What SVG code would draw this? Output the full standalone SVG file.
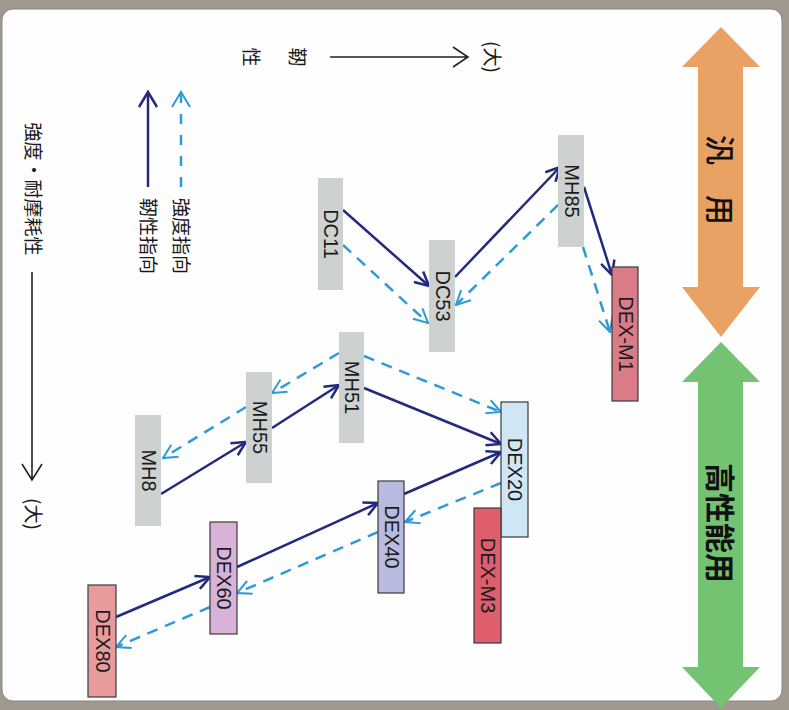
<svg xmlns="http://www.w3.org/2000/svg" width="789" height="710" viewBox="0 0 789 710">
<defs>
<style>
.lbl{font-family:"Liberation Sans",Arial,sans-serif;font-size:20px;fill:#1a1a1a;text-anchor:middle}
.jp{font-family:"Noto Sans CJK JP","Noto Sans CJK SC",sans-serif;font-size:19px;fill:#1a1a1a;text-anchor:middle}
.big{font-family:"Noto Sans CJK JP","Noto Sans CJK SC",sans-serif;font-size:30px;font-weight:bold;fill:#111;text-anchor:middle}
.gray{fill:#cdd1d0}
.box{stroke:#3a3a3a;stroke-width:1.2}
.solid{stroke:#232a7e;stroke-width:2.5;fill:none;marker-end:url(#mS)}
.dash{stroke:#2e9bd6;stroke-width:2.5;fill:none;stroke-dasharray:11 8;marker-end:url(#mD)}
.axis{stroke:#222;stroke-width:1.6;fill:none}
</style>
<marker id="mS" viewBox="0 0 16 16" refX="15" refY="8" markerWidth="16" markerHeight="16" markerUnits="userSpaceOnUse" orient="auto">
<path d="M1,1 L15,8 L1,15" fill="none" stroke="#232a7e" stroke-width="2.5"/>
</marker>
<marker id="mD" viewBox="0 0 16 16" refX="15" refY="8" markerWidth="16" markerHeight="16" markerUnits="userSpaceOnUse" orient="auto">
<path d="M1,1 L15,8 L1,15" fill="none" stroke="#2e9bd6" stroke-width="2"/>
</marker>
</defs>
<rect x="0" y="0" width="789" height="710" fill="#a1988f"/>
<rect x="2" y="9" width="780" height="692" rx="11" fill="#fefefe" stroke="#8a8580" stroke-width="1"/>

<g id="band-general">
<polygon points="721,27 760,67 743,67 743,287 760,287 721,337 682,287 698,287 698,67 682,67" fill="#e9a263"/>
<text class="big" style="font-weight:500" transform="translate(720,180) rotate(90)" y="11">汎　用</text>
</g>
<g id="band-high">
<polygon points="721,342 760,382 743,382 743,667 760,667 721,708 682,667 698,667 698,382 682,382" fill="#74c373"/>
<text class="big" transform="translate(720,523) rotate(90)" y="11">高性能用</text>
</g>

<g id="legend">
<text class="jp" transform="translate(297,57) rotate(90)" y="7">靭</text>
<text class="jp" transform="translate(251,57) rotate(90)" y="7">性</text>
<path class="axis" d="M330,57 H468 M453,47 L468,57 L453,67"/>
<text class="jp" transform="translate(492,57) rotate(90)" y="7">(大)</text>
<line x1="148" y1="187" x2="148" y2="93" stroke="#232a7e" stroke-width="2.5"/>
<path d="M139,107 L148,92 L157,107" fill="none" stroke="#232a7e" stroke-width="2.5"/>
<line x1="181" y1="187" x2="181" y2="93" stroke="#2e9bd6" stroke-width="2.5" stroke-dasharray="10 11"/>
<path d="M172,107 L181,92 L190,107" fill="none" stroke="#2e9bd6" stroke-width="2"/>
<text class="jp" transform="translate(181,236) rotate(90)" y="7">強度指向</text>
<text class="jp" transform="translate(148,236) rotate(90)" y="7">靭性指向</text>
<text class="jp" transform="translate(33,189) rotate(90)" y="7">強度・耐摩耗性</text>
<path class="axis" d="M32,272 V480 M22,464 L32,480 L42,464"/>
<text class="jp" transform="translate(33,514) rotate(90)" y="7">(大)</text>
</g>

<g id="connectors">
<line class="solid" x1="343" y1="210" x2="429" y2="286"/>
<line class="solid" x1="455" y1="277" x2="560" y2="167"/>
<line class="solid" x1="584" y1="187" x2="612" y2="275"/>
<line class="solid" x1="161" y1="494" x2="246" y2="442"/>
<line class="solid" x1="272" y1="428" x2="339" y2="385"/>
<line class="solid" x1="364" y1="388" x2="501" y2="444"/>
<line class="solid" x1="404" y1="494" x2="501" y2="452"/>
<line class="solid" x1="237" y1="567" x2="378" y2="503"/>
<line class="solid" x1="116" y1="617" x2="210" y2="577"/>
<line class="dash" x1="343" y1="245" x2="428" y2="323"/>
<line class="dash" x1="558" y1="205" x2="456" y2="305"/>
<line class="dash" x1="583" y1="247" x2="610" y2="332"/>
<line class="dash" x1="339" y1="353" x2="272" y2="393"/>
<line class="dash" x1="246" y1="407" x2="163" y2="458"/>
<line class="dash" x1="364" y1="356" x2="501" y2="412"/>
<line class="dash" x1="501" y1="483" x2="405" y2="522"/>
<line class="dash" x1="378" y1="532" x2="237" y2="593"/>
<line class="dash" x1="210" y1="607" x2="116" y2="647"/>
</g>

<g id="DC11"><rect class="gray" x="318" y="178" width="25" height="112"/><text class="lbl" transform="translate(331,234) rotate(90)" y="7">DC11</text></g>
<g id="DC53"><rect class="gray" x="429" y="240" width="26" height="112"/><text class="lbl" transform="translate(442.5,296) rotate(90)" y="7">DC53</text></g>
<g id="MH85"><rect class="gray" x="558" y="135" width="26" height="112"/><text class="lbl" transform="translate(571.5,191) rotate(90)" y="7">MH85</text></g>
<g id="DEX-M1"><rect class="box" x="612" y="267" width="26" height="134" fill="#db7b88"/><text class="lbl" transform="translate(625.5,334) rotate(90)" y="7">DEX-M1</text></g>
<g id="MH51"><rect class="gray" x="339" y="332" width="25" height="111"/><text class="lbl" transform="translate(352,387.5) rotate(90)" y="7">MH51</text></g>
<g id="MH55"><rect class="gray" x="246" y="372" width="26" height="111"/><text class="lbl" transform="translate(259.5,427.5) rotate(90)" y="7">MH55</text></g>
<g id="MH8"><rect class="gray" x="135" y="415" width="26" height="111"/><text class="lbl" transform="translate(148.5,470.5) rotate(90)" y="7">MH8</text></g>
<g id="DEX20"><rect class="box" x="501" y="402" width="27" height="135" fill="#cfe7f4"/><text class="lbl" transform="translate(515,469.5) rotate(90)" y="7">DEX20</text></g>
<g id="DEX-M3"><rect class="box" x="474" y="508" width="27" height="135" fill="#de5e6e"/><text class="lbl" transform="translate(488,575.5) rotate(90)" y="7">DEX-M3</text></g>
<g id="DEX40"><rect class="box" x="378" y="481" width="26" height="112" fill="#b9badf"/><text class="lbl" transform="translate(391.5,537) rotate(90)" y="7">DEX40</text></g>
<g id="DEX60"><rect class="box" x="210" y="522" width="27" height="112" fill="#d8b3d7"/><text class="lbl" transform="translate(224,578) rotate(90)" y="7">DEX60</text></g>
<g id="DEX80"><rect class="box" x="88" y="585" width="28" height="112" fill="#e79b9d"/><text class="lbl" transform="translate(102.5,641) rotate(90)" y="7">DEX80</text></g>
</svg>
